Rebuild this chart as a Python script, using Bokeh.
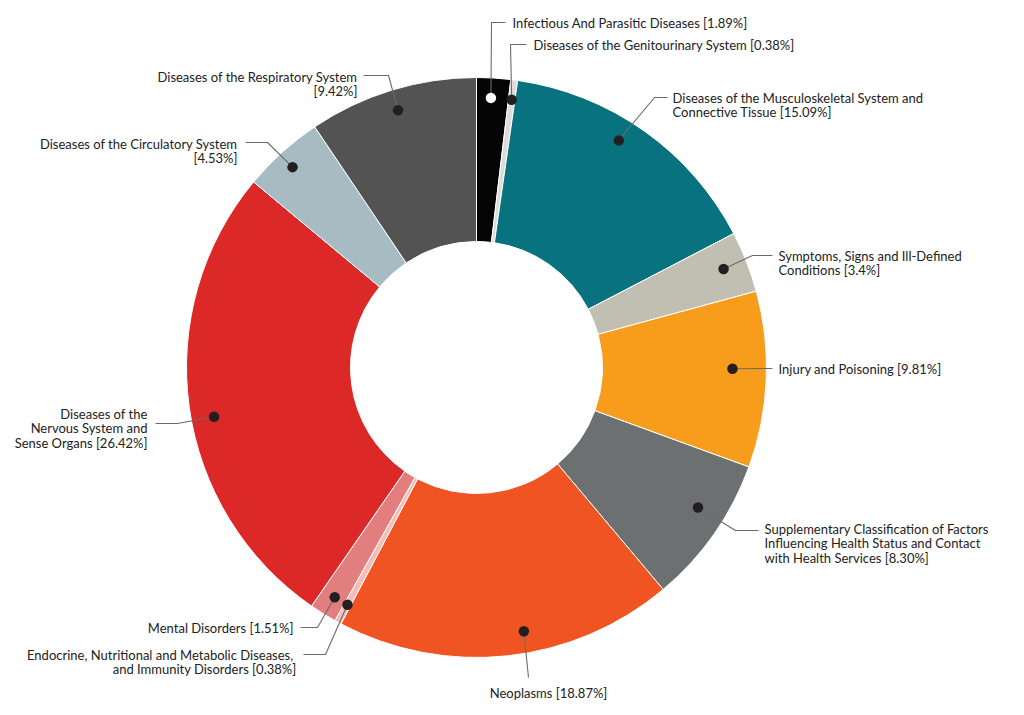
import numpy as np
from bokeh.plotting import figure
from bokeh.models import Range1d, ColumnDataSource
from bokeh.core.properties import value
from bokeh.embed import file_html
from bokeh.resources import INLINE

# ---------------- data ----------------
categories = [
    "Infectious And Parasitic Diseases",
    "Diseases of the Genitourinary System",
    "Diseases of the Musculoskeletal System and Connective Tissue",
    "Symptoms, Signs and Ill-Defined Conditions",
    "Injury and Poisoning",
    "Supplementary Classification of Factors Influencing Health Status and Contact with Health Services",
    "Neoplasms",
    "Endocrine, Nutritional  and Metabolic Diseases, and Immunity Disorders",
    "Mental Disorders",
    "Diseases of the Nervous System and Sense Organs",
    "Diseases of the Circulatory System",
    "Diseases of the Respiratory System",
]
percent_labels = ["1.89%", "0.38%", "15.09%", "3.4%", "9.81%", "8.30%",
                  "18.87%", "0.38%", "1.51%", "26.42%", "4.53%", "9.42%"]
values = [1.89, 0.38, 15.09, 3.4, 9.81, 8.30, 18.87, 0.38, 1.51, 26.42, 4.53, 9.42]
colors = ["#050505", "#dcdcdc", "#08737f", "#c0bfb1", "#f89c1c", "#6d7071",
          "#f05423", "#f6bcb8", "#e37e7e", "#dc2826", "#a6bcc2", "#535353"]

# label lines (text split as in the reference)
label_lines = [
    ["Infectious And Parasitic Diseases [1.89%]"],
    ["Diseases of the Genitourinary System [0.38%]"],
    ["Diseases of the Musculoskeletal System and", "Connective Tissue [15.09%]"],
    ["Symptoms, Signs and Ill-Defined", "Conditions [3.4%]"],
    ["Injury and Poisoning [9.81%]"],
    ["Supplementary Classification of Factors", "Influencing Health Status and Contact",
     "with Health Services [8.30%]"],
    ["Neoplasms [18.87%]"],
    ["Endocrine, Nutritional  and Metabolic Diseases,", "and Immunity Disorders [0.38%]"],
    ["Mental Disorders [1.51%]"],
    ["Diseases of the", "Nervous System and", "Sense Organs [26.42%]"],
    ["Diseases of the Circulatory System", "[4.53%]"],
    ["Diseases of the Respiratory System", "[9.42%]"],
]

# ---------------- layout (screen pixel coords, y down) ----------------
W, H = 1024, 715
CX, CY = 476, 367
R_OUT, R_IN = 290, 126
dot_frac = [0.45, 0.5, 0.44, 0.47, 0.44, 0.41, 0.44, 0.5, 0.45, 0.47, 0.47, 0.5]
dot_r = [270, 270, 268, 266, 256, 262, 268, 270, 270, 267, 272, 269]
elbows = [(491, 22), (510, 44), (654, 97), (752, 255), None, (735, 530),
          (528, 677), (325, 654), (317, 627), (177, 423), (267, 142), (388, 75)]
ends = [(505, 22), (526, 44), (667, 97), (772, 255), (772, 368), (758, 530),
        None, (303, 654), (300, 627), (155, 423), (245, 142), (363, 75)]
text_pos = [(512, 22, "left"), (533, 44, "left"), (672, 97, "left"),
            (778, 255, "left"), (778, 368, "left"), (764, 528, "left"),
            (548, 692, "center"), (296, 654, "right"), (293, 627, "right"),
            (147, 413, "right"), (237, 143, "right"), (357, 76, "right")]
LINE_H = 14.6


def sy(y):
    return H - y


p = figure(width=1008, height=707, output_backend="svg", toolbar_location=None,
           x_range=Range1d(0, 1008), y_range=Range1d(8, 715),
           x_axis_type=None, y_axis_type=None, min_border=0)
p.outline_line_color = None
p.grid.visible = False
p.background_fill_color = "white"

vals = np.array(values, dtype=float)
frac = vals / vals.sum()
cum_end = np.cumsum(frac)
cum_start = cum_end - frac
start_angle = np.pi / 2 - 2 * np.pi * cum_start
end_angle = np.pi / 2 - 2 * np.pi * cum_end

src = ColumnDataSource(dict(start=start_angle, end=end_angle, color=colors,
                            cat=categories, pct=percent_labels))
p.annular_wedge(x=CX, y=sy(CY), inner_radius=R_IN, outer_radius=R_OUT,
                start_angle="start", end_angle="end", direction="clock",
                fill_color="color", line_color="white", line_width=1, source=src)

# dots + leader lines
dx, dy, dcol = [], [], []
xs, ys = [], []
for i in range(len(values)):
    a = 2 * np.pi * (cum_start[i] + dot_frac[i] * frac[i])
    px = CX + dot_r[i] * np.sin(a)
    py = CY - dot_r[i] * np.cos(a)
    dx.append(px)
    dy.append(sy(py))
    dcol.append("white" if i == 0 else "#231f20")
    pts = [(px, py)]
    if elbows[i] is not None:
        pts.append(elbows[i])
    if ends[i] is not None:
        pts.append(ends[i])
    xs.append([q[0] for q in pts])
    ys.append([sy(q[1]) for q in pts])

p.multi_line(xs=xs, ys=ys, line_color="#6b6b6b", line_width=1.1)
p.scatter(x=dx, y=dy, size=10.5, fill_color=dcol, line_color=None)

# texts
tx, ty, tt, ta = [], [], [], []
for i, lines in enumerate(label_lines):
    x0, y0, al = text_pos[i]
    for j, ln in enumerate(lines):
        tx.append(x0)
        ty.append(sy(y0 + j * LINE_H))
        tt.append(ln)
        ta.append(al)

for al in ("left", "right", "center"):
    idx = [k for k in range(len(tt)) if ta[k] == al]
    p.text(x=[tx[k] for k in idx], y=[ty[k] for k in idx], text=[tt[k] for k in idx],
           text_align=al, text_baseline="middle", text_font=value("Lato"),
           text_font_size="13px", text_color="#222222")

open("out.html", "w").write(file_html(p, INLINE))
